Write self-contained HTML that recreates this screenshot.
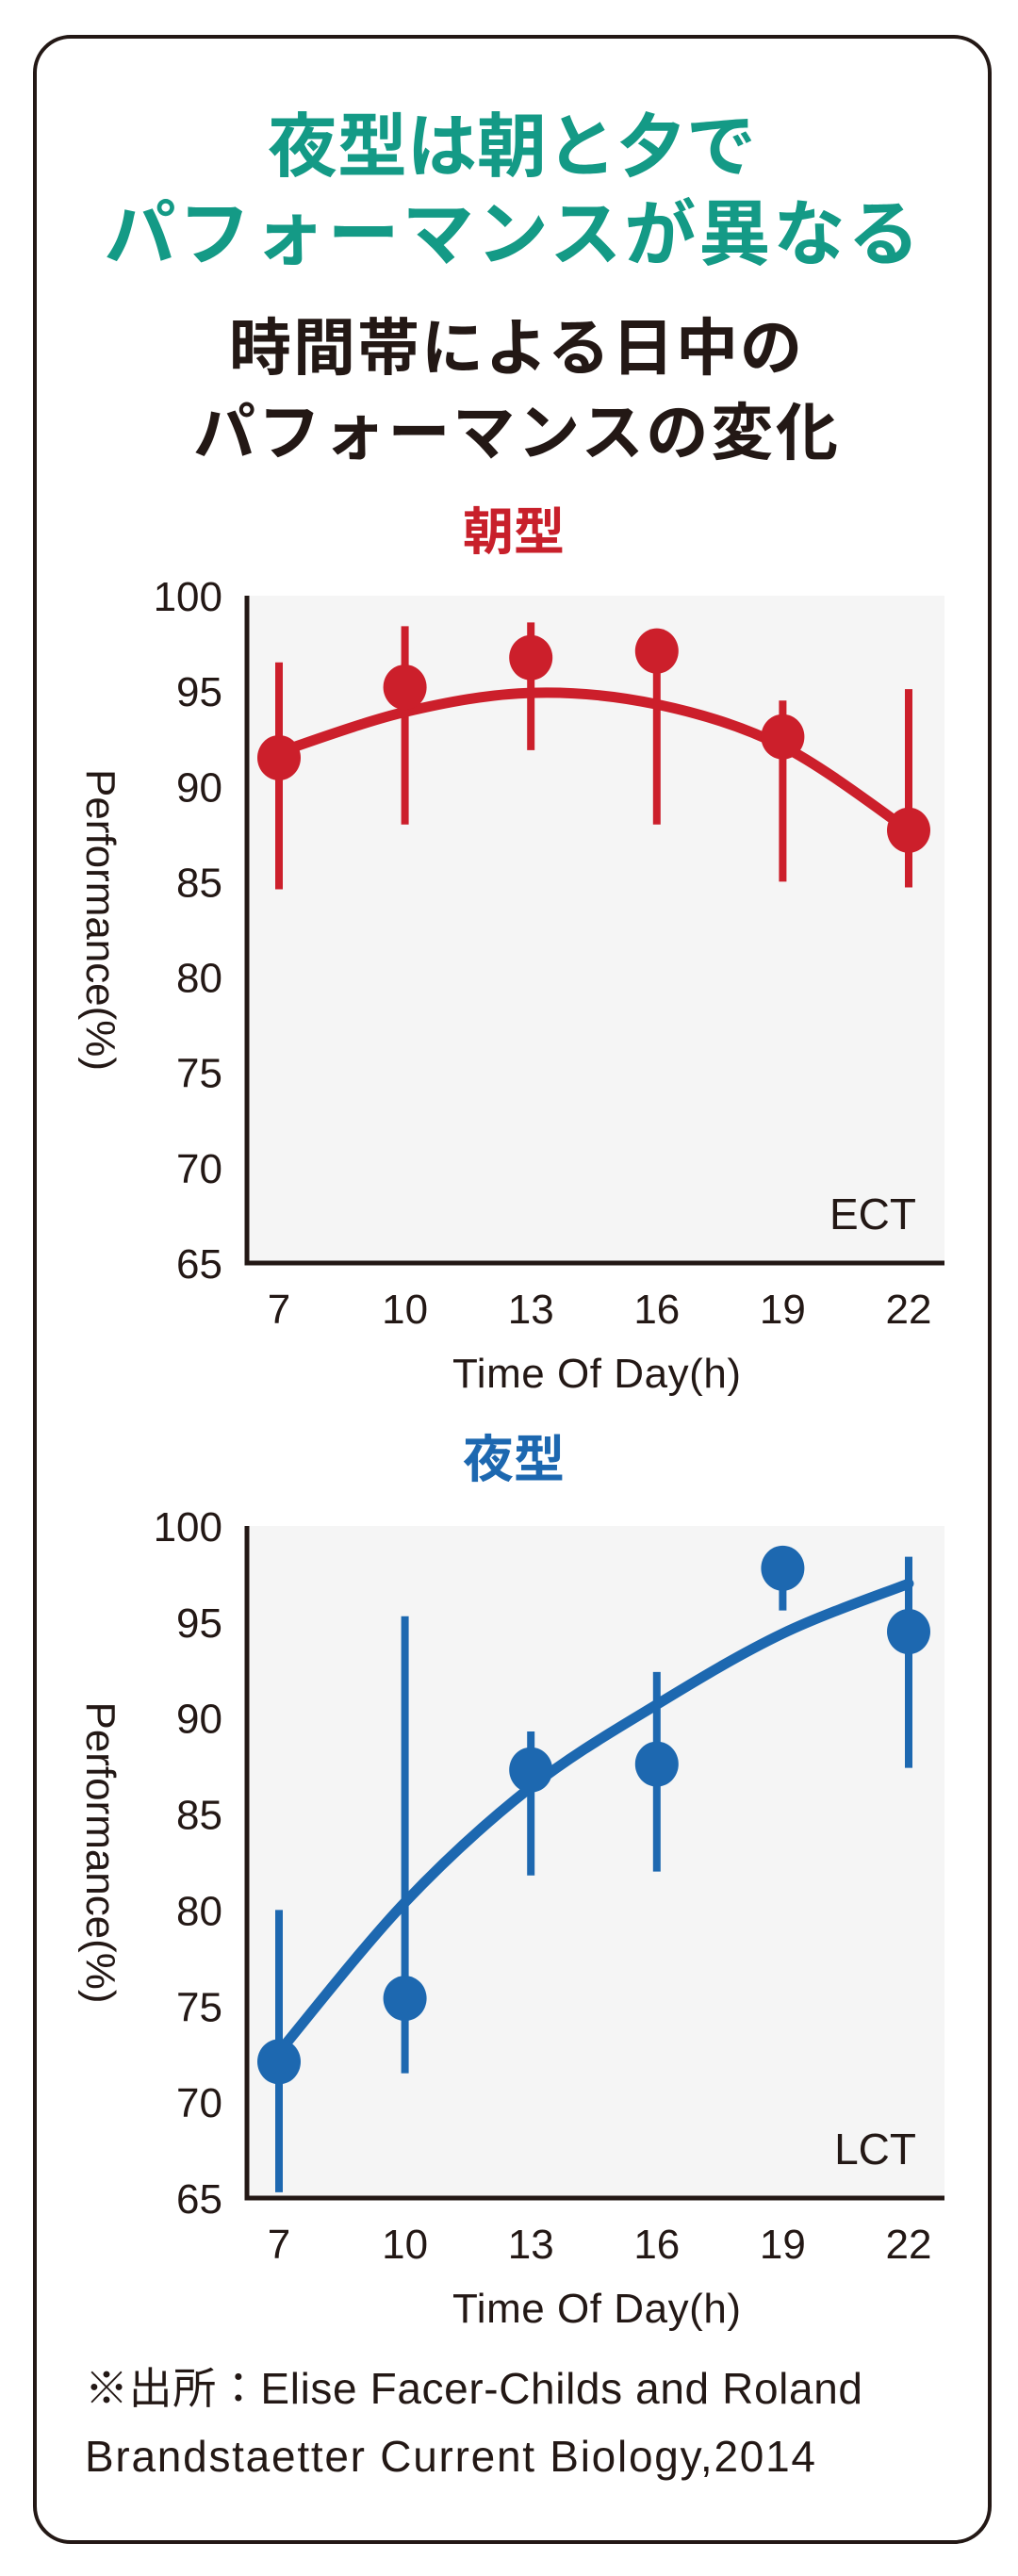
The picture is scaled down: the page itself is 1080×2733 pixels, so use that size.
<!DOCTYPE html>
<html><head><meta charset="utf-8"><style>
html,body{margin:0;padding:0;background:#fff;}
svg{display:block;}
text{font-family:"Liberation Sans","Noto Sans CJK JP",sans-serif;}
</style></head><body>
<svg id="root" width="1080" height="2733" viewBox="0 0 1080 2733" xmlns="http://www.w3.org/2000/svg">
<rect x="37" y="39" width="1013" height="2658" rx="38" ry="38" fill="#fff" stroke="#231815" stroke-width="4"/>
<text x="543" y="181" text-anchor="middle" font-size="74" font-weight="bold" fill="#149a86">夜型は朝と夕で</text>
<text x="543" y="275" text-anchor="middle" font-size="76" font-weight="bold" fill="#149a86" textLength="865">パフォーマンスが異なる</text>
<text x="547" y="392" text-anchor="middle" font-size="66" font-weight="bold" fill="#231815" textLength="608">時間帯による日中の</text>
<text x="547" y="482" text-anchor="middle" font-size="66" font-weight="bold" fill="#231815" textLength="684">パフォーマンスの変化</text>
<text x="545" y="583" text-anchor="middle" font-size="54" font-weight="bold" fill="#c8202b">朝型</text>
<text x="545" y="1567" text-anchor="middle" font-size="54" font-weight="bold" fill="#1d68b0">夜型</text>
<text x="90" y="2550" font-size="46" fill="#231815" textLength="825">※出所：Elise Facer-Childs and Roland</text>
<text x="90" y="2622" font-size="46" fill="#231815" textLength="775">Brandstaetter Current Biology,2014</text>
<g id="c1"></g>
<g id="c2"></g>
</svg>
<script>
const hours = [7, 10, 13, 16, 19, 22];
const yTicks = [65, 70, 75, 80, 85, 90, 95, 100];
const ectMean = [91.5, 95.2, 96.75, 97.1, 92.6, 87.7];
const ectLow = [84.6, 88.0, 91.9, 88.0, 85.0, 84.7];
const ectHigh = [96.5, 98.4, 98.6, 97.1, 94.5, 95.1];
const ectFit = [91.8, 93.9, 94.9, 94.3, 92.1, 87.7];
const lctMean = [72.1, 75.4, 87.3, 87.6, 97.8, 94.5];
const lctLow = [65.3, 71.5, 81.8, 82.0, 95.6, 87.4];
const lctHigh = [80.0, 95.3, 89.3, 92.4, 97.8, 98.4];
const lctFit = [72.6, 80.4, 86.4, 90.7, 94.4, 97.0];

const NS = "http://www.w3.org/2000/svg";
function mk(tag, attrs, parent){const e=document.createElementNS(NS,tag);for(const k in attrs)e.setAttribute(k,attrs[k]);parent.appendChild(e);return e;}

function chart(gid, top, bottom, mean, low, high, fit, color, label, labelFont){
  const g = document.getElementById(gid);
  const left = 262, right = 1002;
  const xs = h => 296 + (h - 7) / 3 * 133.6;
  const ys = v => bottom - (v - 65) / 35 * (bottom - top);
  const bg = mk('rect',{x:left,y:top,width:right-left,height:bottom-top,fill:'#f5f5f5'},g);
  
  
  yTicks.forEach(t=>{
    const tx = mk('text',{x:236,y:ys(t)+16,'text-anchor':'end','font-size':44,fill:'#231815'},g);
    tx.textContent = t;
    
    
  });
  hours.forEach(h=>{
    const tx = mk('text',{x:xs(h),y:bottom+64,'text-anchor':'middle','font-size':44,fill:'#231815'},g);
    tx.textContent = h;
    
    
  });
  const xt = mk('text',{x:633,y:bottom+132,'text-anchor':'middle','font-size':44,fill:'#231815',textLength:306},g);
  xt.textContent = 'Time Of Day(h)';
  
  
  const cy = (top+bottom)/2 - 10;
  const yt = mk('text',{x:0,y:0,'text-anchor':'middle','font-size':44,fill:'#231815',textLength:320,transform:`translate(92,${cy}) rotate(90)`},g);
  yt.textContent = 'Performance(%)';
  
  
  const lb = mk('text',{x:972,y:bottom-36,'text-anchor':'end','font-size':labelFont,fill:'#231815'},g);
  lb.textContent = label;
  
  
  hours.forEach((h,i)=>{
    const eb = mk('line',{x1:xs(h),x2:xs(h),y1:ys(low[i]),y2:ys(high[i]),stroke:color,'stroke-width':8},g);
    
    
  });
  const pts = hours.map((h,i)=>[xs(h),ys(fit[i])]);
  let d = `M${pts[0][0]},${pts[0][1]}`;
  for(let i=0;i<pts.length-1;i++){
    const p0=pts[Math.max(0,i-1)],p1=pts[i],p2=pts[i+1],p3=pts[Math.min(pts.length-1,i+2)];
    const c1=[p1[0]+(p2[0]-p0[0])/6,p1[1]+(p2[1]-p0[1])/6];
    const c2=[p2[0]-(p3[0]-p1[0])/6,p2[1]-(p3[1]-p1[1])/6];
    d+=` C${c1[0]},${c1[1]} ${c2[0]},${c2[1]} ${p2[0]},${p2[1]}`;
  }
  const fl = mk('path',{d:d,fill:'none',stroke:color,'stroke-width':11,'stroke-linecap':'round'},g);
  
  
  hours.forEach((h,i)=>{
    const c = mk('ellipse',{cx:xs(h),cy:ys(mean[i]),rx:23,ry:24,fill:color},g);
    
    
  });
  const ax = mk('path',{d:`M${left},${top} L${left},${bottom} L${right},${bottom}`,fill:'none',stroke:'#231815','stroke-width':5},g);
  
  
}
chart('c1', 632, 1340, ectMean, ectLow, ectHigh, ectFit, '#cc1f2b', 'ECT', 46);
chart('c2', 1619, 2332, lctMean, lctLow, lctHigh, lctFit, '#1d68b0', 'LCT', 46);
</script>
</body></html>
